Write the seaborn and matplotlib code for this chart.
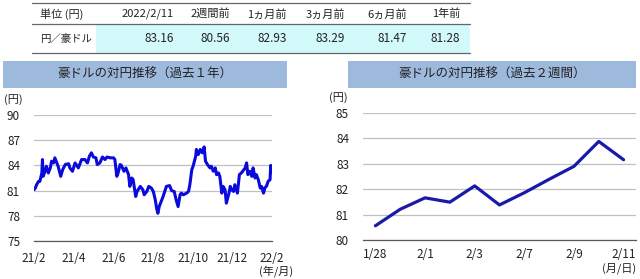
import matplotlib
matplotlib.use("Agg")
import matplotlib.pyplot as plt
import seaborn as sns
import pandas as pd
from matplotlib.patches import Rectangle
from matplotlib.lines import Line2D

# ---------------- data ----------------
table_headers = ["2022/2/11", "2週間前", "1ヵ月前", "3ヵ月前", "6ヵ月前", "1年前"]
table_values = ["83.16", "80.56", "82.93", "83.29", "81.47", "81.28"]

# 1-year chart: day offset from 2021/2/11, rate
year_days = [0, 2, 4, 7, 9, 12, 13, 14, 17, 19, 22, 25, 27, 30, 32, 35, 37, 41, 44, 48,
             53, 55, 59, 63, 68, 73, 78, 82, 85, 88, 91, 95, 97, 101, 105, 109, 112, 117, 122, 124,
             127, 129, 132, 134, 138, 141, 145, 147, 150, 152, 156, 158, 163, 167, 169, 173, 176, 180, 183, 186,
             188, 190, 192, 195, 198, 203, 208, 211, 215, 218, 221, 224, 226, 229, 234, 237, 239, 242, 244, 248,
             249, 252, 255, 258, 261, 263, 266, 270, 272, 275, 278, 280, 283, 285, 288, 290, 293, 295, 299, 301,
             303, 306, 308, 312, 315, 318, 324, 326, 328, 331, 334, 336, 339, 341, 344, 347, 349, 352, 354, 357,
             359, 362, 363, 365]
year_rate = [81.1, 81.3, 81.7, 82.1, 82.1, 83.1, 84.7, 82.7, 83.3, 83.9, 83.1, 83.7, 84.5, 84.3, 84.9, 84.3, 83.9, 82.7, 83.5, 84.1,
             84.2, 83.7, 83.3, 84.3, 83.7, 84.7, 84.7, 84.3, 85.1, 85.5, 85.0, 84.9, 84.1, 84.3, 85.0, 84.7, 85.0, 84.9, 84.9, 84.7,
             82.7, 83.1, 84.1, 84.0, 83.3, 83.7, 82.9, 81.5, 82.5, 82.3, 80.3, 80.9, 81.5, 81.1, 80.5, 80.9, 81.5, 81.3, 80.9, 79.9,
             78.9, 78.3, 79.1, 79.7, 80.3, 81.5, 81.6, 81.0, 80.9, 79.9, 79.1, 80.5, 80.7, 80.5, 80.7, 80.9, 81.7, 83.5, 83.9, 85.1,
             85.9, 85.3, 85.9, 85.5, 86.2, 84.5, 84.1, 83.7, 83.9, 83.3, 83.7, 82.9, 83.1, 82.7, 80.7, 81.5, 81.1, 79.5, 80.7, 81.5,
             81.1, 80.9, 81.7, 80.7, 82.9, 83.1, 83.7, 84.3, 82.9, 83.3, 82.7, 83.7, 82.5, 82.9, 82.3, 81.3, 81.5, 80.7, 81.3, 81.6,
             82.1, 82.3, 84.0, 83.16]
year_tick_labels = ["21/2", "21/4", "21/6", "21/8", "21/10", "21/12", "22/2"]

# 2-week chart
week_dates = ["1/28", "1/31", "2/1", "2/2", "2/3", "2/4", "2/7", "2/8", "2/9", "2/10", "2/11"]
week_rate = [80.56, 81.21, 81.66, 81.49, 82.13, 81.38, 81.86, 82.39, 82.90, 83.88, 83.16]

# ---------------- style ----------------
sns.set_style("white")
plt.rcParams["font.family"] = ["Noto Sans CJK JP", "DejaVu Sans"]

W, H = 640, 279
fig = plt.figure(figsize=(6.4, 2.79), dpi=100)
TXT = "#222222"

def fx(px):
    return px / W

def fy(py):
    return 1 - py / H

# ---------------- table ----------------
fig.add_artist(Rectangle((fx(96), fy(53)), fx(470 - 96), (53 - 24) / H,
                         transform=fig.transFigure, facecolor="#D2FAFA", edgecolor="none"))
for py in (3, 24, 53):
    fig.add_artist(Line2D([fx(32), fx(470)], [fy(py), fy(py)], transform=fig.transFigure,
                          color="#666666", lw=0.9))
fig.text(fx(40), fy(14), "単位 (円)", fontsize=8, va="center", ha="left", color=TXT)
fig.text(fx(40), fy(39), "円／豪ドル", fontsize=7.5, va="center", ha="left", color=TXT)
col_right = [174, 230, 287, 345, 407, 460]
for xr, h, v in zip(col_right, table_headers, table_values):
    fig.text(fx(xr), fy(14), h, fontsize=8, va="center", ha="right", color=TXT)
    fig.text(fx(xr), fy(39), v, fontsize=8.5, va="center", ha="right", color=TXT)

# ---------------- title boxes ----------------
box_color = "#9DB9DC"
for x0, x1, title in [(3, 287, "豪ドルの対円推移（過去１年）"), (348, 636, "豪ドルの対円推移（過去２週間）")]:
    fig.add_artist(Rectangle((fx(x0), fy(88)), fx(x1 - x0), 27 / H, transform=fig.transFigure,
                             facecolor=box_color, edgecolor="none"))
    fig.text(fx((x0 + x1) / 2), fy(74.5), title, fontsize=9, ha="center", va="center", color=TXT)

grid_color = "#C0C0C0"

# ---------------- left chart ----------------
ax1 = fig.add_axes([fx(34), fy(241), fx(272 - 34), (241 - 115) / H])
df1 = pd.DataFrame({"day": year_days, "rate": year_rate})
sns.lineplot(data=df1, x="day", y="rate", ax=ax1, color="#0A0ADC", lw=2.2)
ax1.set_xlim(0, 365)
ax1.set_ylim(75, 90)
ax1.set_yticks([75, 78, 81, 84, 87, 90])
ax1.set_xticks([365 / 6 * i for i in range(7)])
ax1.set_xticklabels(year_tick_labels)

# ---------------- right chart ----------------
ax2 = fig.add_axes([fx(363), fy(240), fx(636 - 363), (240 - 113) / H])
df2 = pd.DataFrame({"idx": list(range(len(week_dates))), "rate": week_rate})
sns.lineplot(data=df2, x="idx", y="rate", ax=ax2, color="#1A1AA8", lw=2.3)
ax2.set_xlim(-0.5, len(week_dates) - 0.5)
ax2.set_ylim(80, 85)
ax2.set_yticks([80, 81, 82, 83, 84, 85])
ax2.set_xticks([i - 0.5 for i in range(0, len(week_dates), 2)])
ax2.set_xticklabels([])
ax2.set_xticks(list(range(0, len(week_dates), 2)), minor=True)
ax2.set_xticklabels(week_dates[::2], minor=True)
ax2.tick_params(axis="x", which="minor", length=0, pad=6, labelsize=8.5, colors=TXT)

for ax, ypad, xpad in [(ax1, 10, 8), (ax2, 10, 6)]:
    ax.set_xlabel("")
    ax.set_ylabel("")
    for s in ("top", "right", "left"):
        ax.spines[s].set_visible(False)
    ax.spines["bottom"].set_color("#595959")
    ax.spines["bottom"].set_linewidth(0.9)
    ax.yaxis.grid(True, color=grid_color, lw=0.9)
    ax.xaxis.grid(False)
    ax.set_axisbelow(True)
    ax.tick_params(axis="y", length=0, pad=ypad, labelsize=8.5, labelcolor=TXT)
    ax.tick_params(axis="x", which="major", direction="in", length=3.5, width=0.9, color="#595959",
                   pad=xpad, labelsize=8.5, labelcolor=TXT)
    ax.set_facecolor("none")

fig.text(fx(4), fy(100), "(円)", fontsize=8, ha="left", va="center", color=TXT)
fig.text(fx(329), fy(98), "(円)", fontsize=8, ha="left", va="center", color=TXT)
fig.text(fx(293), fy(271), "(年/月)", fontsize=8, ha="right", va="center", color=TXT)
fig.text(fx(636), fy(268), "(月/日)", fontsize=8, ha="right", va="center", color=TXT)

fig.savefig("out.png", dpi=100)
